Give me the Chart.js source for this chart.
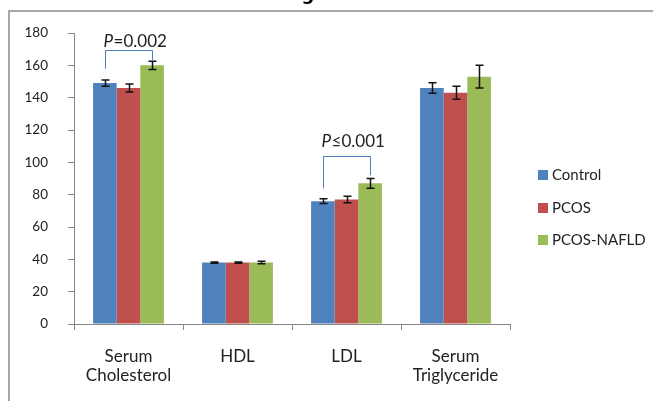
<!DOCTYPE html>
<html>
<head>
<meta charset="utf-8">
<script src="https://cdn.jsdelivr.net/npm/chart.js@4.4.1/dist/chart.umd.min.js"></script>
<style>
  html, body { margin: 0; padding: 0; background: #fff; }
  #wrap { width: 653px; height: 401px; position: relative; }
</style>
</head>
<body>
<div id="wrap"><canvas id="c" width="653" height="401"></canvas></div>
<script>
// Lipid profile by group (mg/dL), mean ± error
const categories = [["Serum", "Cholesterol"], "HDL", "LDL", ["Serum", "Triglyceride"]];
const groups = ["Control", "PCOS", "PCOS-NAFLD"];
const controlMeans = [149, 38, 76, 146];
const pcosMeans = [146, 38, 77, 143];
const nafldMeans = [160, 38, 87, 153];
const controlErr = [2, 0.4, 1.5, 3.3];
const pcosErr = [2.5, 0.4, 2, 4];
const nafldErr = [2.5, 0.8, 3, 7];
const yTicks = [0, 20, 40, 60, 80, 100, 120, 140, 160, 180];

const colors = ["#4F81BD", "#C0504D", "#9BBB59"];
const FONT = "Lato, 'Open Sans', sans-serif";

// significance brackets: category, left/right series, bracket top, leg ends, label
const brackets = [
  { cat: 0, from: 0, to: 2, top: 169.5, leftEnd: 158, rightEnd: 163, label: "=0.002", labelY: 175 },
  { cat: 2, from: 0, to: 2, top: 104, leftEnd: 84, rightEnd: 92, label: "\u22640.001", labelY: 113 }
];

const frame = {
  id: "frame",
  beforeDraw(chart) {
    const ctx = chart.ctx;
    ctx.save();
    ctx.fillStyle = "#fff";
    ctx.fillRect(0, 0, chart.width, chart.height);
    // figure caption, mostly cut off at the top edge
    ctx.fillStyle = "#000";
    ctx.font = "bold 18px 'DejaVu Sans', sans-serif";
    ctx.textAlign = "left";
    ctx.textBaseline = "alphabetic";
    ctx.fillText("Figure 1.", 283, 0);
    ctx.strokeStyle = "#a8a8a8";
    ctx.lineWidth = 2;
    ctx.beginPath();
    ctx.moveTo(9, 401);
    ctx.lineTo(9, 11);
    ctx.lineTo(653, 11);
    ctx.stroke();
    ctx.restore();
  }
};

const errorBars = {
  id: "errorBars",
  afterDatasetsDraw(chart) {
    const ctx = chart.ctx;
    const y = chart.scales.y;
    const errs = [controlErr, pcosErr, nafldErr];
    ctx.save();
    ctx.strokeStyle = "#111";
    ctx.lineWidth = 1.5;
    chart.data.datasets.forEach((ds, di) => {
      const meta = chart.getDatasetMeta(di);
      meta.data.forEach((bar, i) => {
        const v = ds.data[i], e = errs[di][i];
        const x = Math.round(bar.x) + 0.5;
        const yt = y.getPixelForValue(v + e), yb = y.getPixelForValue(v - e);
        ctx.beginPath();
        ctx.moveTo(x, yt); ctx.lineTo(x, yb);
        ctx.moveTo(x - 4, yt); ctx.lineTo(x + 4, yt);
        ctx.moveTo(x - 4, yb); ctx.lineTo(x + 4, yb);
        ctx.stroke();
      });
    });
    ctx.restore();
  }
};

const sigBrackets = {
  id: "sigBrackets",
  afterDatasetsDraw(chart) {
    const ctx = chart.ctx;
    const y = chart.scales.y;
    ctx.save();
    brackets.forEach(b => {
      const xl = Math.round(chart.getDatasetMeta(b.from).data[b.cat].x) + 0.5;
      const xr = Math.round(chart.getDatasetMeta(b.to).data[b.cat].x) + 0.5;
      const yt = Math.round(y.getPixelForValue(b.top)) + 0.5;
      ctx.strokeStyle = "#4A7EBB";
      ctx.lineWidth = 1;
      ctx.beginPath();
      ctx.moveTo(xl, y.getPixelForValue(b.leftEnd));
      ctx.lineTo(xl, yt);
      ctx.lineTo(xr, yt);
      ctx.lineTo(xr, y.getPixelForValue(b.rightEnd));
      ctx.stroke();
      const ty = y.getPixelForValue(b.labelY);
      ctx.fillStyle = "#222";
      ctx.textBaseline = "middle";
      ctx.textAlign = "left";
      ctx.font = "italic 17px " + FONT;
      ctx.fillText("P", xl - 2, ty);
      const pw = ctx.measureText("P").width;
      ctx.font = "17px " + FONT;
      ctx.fillText(b.label, xl - 2 + pw + 0.5, ty);
    });
    ctx.restore();
  }
};

const sideLegend = {
  id: "sideLegend",
  afterDraw(chart) {
    const ctx = chart.ctx;
    ctx.save();
    ctx.font = "15px " + FONT;
    ctx.textBaseline = "middle";
    ctx.textAlign = "left";
    groups.forEach((g, i) => {
      const cy = 175 + i * 32.5;
      ctx.fillStyle = colors[i];
      ctx.fillRect(538, Math.round(cy - 5), 10, 10);
      ctx.fillStyle = "#222";
      ctx.fillText(g, 552, cy + 0.5);
    });
    ctx.restore();
  }
};

new Chart(document.getElementById("c"), {
  type: "bar",
  data: {
    labels: categories,
    datasets: [
      { label: groups[0], data: controlMeans, backgroundColor: colors[0] },
      { label: groups[1], data: pcosMeans, backgroundColor: colors[1] },
      { label: groups[2], data: nafldMeans, backgroundColor: colors[2] }
    ]
  },
  options: {
    responsive: false,
    animation: false,
    devicePixelRatio: 1,
    layout: { padding: { left: 0, right: 143, top: 33, bottom: 0 } },
    datasets: { bar: { categoryPercentage: 0.65, barPercentage: 1.0 } },
    plugins: { legend: { display: false }, tooltip: { enabled: false } },
    scales: {
      x: {
        offset: true,
        grid: { offset: true, drawOnChartArea: false, drawTicks: true, tickLength: 6, color: "#868686" },
        border: { color: "#868686" },
        ticks: { color: "#222", font: { family: FONT, size: 17, lineHeight: 1.1 }, padding: 17, maxRotation: 0, autoSkip: false },
        afterFit(s) { s.height = 77; }
      },
      y: {
        min: 0, max: 180,
        afterBuildTicks(s) { s.ticks = yTicks.map(v => ({ value: v })); },
        grid: { drawOnChartArea: false, drawTicks: true, tickLength: 6, color: "#868686" },
        border: { color: "#868686" },
        ticks: { color: "#222", font: { family: FONT, size: 13.5 }, padding: 20 },
        afterFit(s) { s.width = 74; }
      }
    }
  },
  plugins: [frame, errorBars, sigBrackets, sideLegend]
});
</script>
</body>
</html>
